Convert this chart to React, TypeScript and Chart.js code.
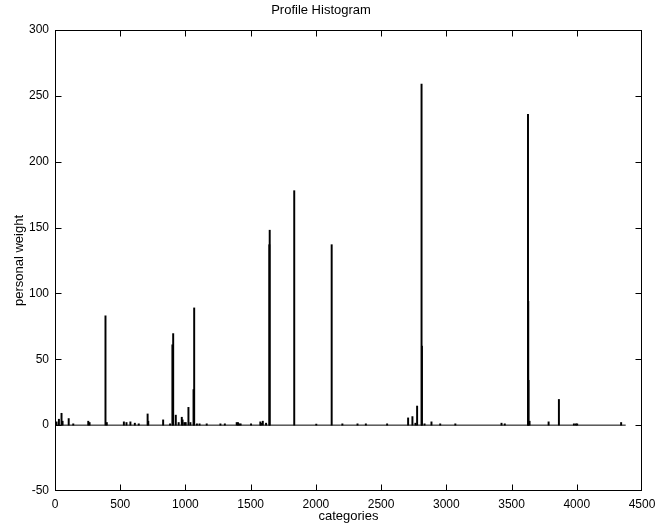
import React, { useEffect, useRef } from "react";
import { Chart, registerables } from "chart.js";

Chart.register(...registerables);

// ---- data ----
const spikeCategories = [
  12, 30, 50, 58, 105, 140, 255, 265, 387, 397, 528, 548, 578, 612, 642, 710, 715,
  829, 882, 900, 906, 926, 948, 972, 978, 992, 1002, 1023, 1038, 1062, 1067, 1088,
  1108, 1163, 1268, 1302, 1393, 1403, 1413, 1423, 1503, 1574, 1579, 1593, 1618,
  1643, 1646, 1834, 2003, 2121, 2203, 2319, 2383, 2546, 2707, 2740, 2763, 2776,
  2810, 2813, 2833, 2886, 2953, 3069, 3423, 3448, 3626, 3628, 3630, 3638, 3784,
  3863, 3978, 3993, 4003, 4340,
];
const spikeWeights = [
  2.5, 4.5, 9, 3, 5, 1, 3, 2, 83, 2, 2.5, 2, 2.5, 1.5, 1, 8.5, 3,
  4, 1, 61, 69.5, 7.6, 2, 6, 4, 2, 2, 13.5, 2, 27, 89, 1,
  1, 1, 1, 1, 2, 2, 1, 1, 1, 2.5, 1.5, 3, 1.5,
  137, 148, 178, 0.8, 137, 1, 1, 1, 1, 5.5, 6.5, 1.5, 14.5,
  259, 60, 1, 2.5, 1, 1, 1.5, 1, 236, 94, 34, 3, 2.5,
  19.5, 1, 1, 1, 2,
];
const categoryCount = 4375; // zero-height bars form the baseline
const xRange = [0, 4500];
const xStep = 500;
const yRange = [-50, 300];
const yStep = 50;

const chartTitle = "Profile Histogram";
const xTitle = "categories";
const yTitle = "personal weight";

const FONT = "'Liberation Sans', Arial, Helvetica, sans-serif";

const framePlugin = {
  id: "matlabFrame",
  afterDraw(chart: any) {
    const { ctx, chartArea, scales } = chart;
    const { left, right, top, bottom } = chartArea;
    const x = scales.x;
    const y = scales.y;
    const L = Math.round(left) + 0.5;
    const R = Math.round(right) - 0.5;
    const T = Math.round(top) + 0.5;
    const B = Math.round(bottom) - 0.5;
    ctx.save();
    ctx.strokeStyle = "#000";
    ctx.lineWidth = 1;
    ctx.beginPath();
    x.ticks.forEach((t: any) => {
      const p = Math.round(x.getPixelForValue(t.value)) + 0.5;
      if (p <= L + 1 || p >= R - 1) return;
      ctx.moveTo(p, B);
      ctx.lineTo(p, B - 6);
      ctx.moveTo(p, T);
      ctx.lineTo(p, T + 6);
    });
    y.ticks.forEach((t: any) => {
      const p = Math.round(y.getPixelForValue(t.value)) + 0.5;
      if (p <= T + 1 || p >= B - 1) return;
      ctx.moveTo(L, p);
      ctx.lineTo(L + 6, p);
      ctx.moveTo(R, p);
      ctx.lineTo(R - 6, p);
    });
    ctx.stroke();
    ctx.strokeRect(L, T, R - L, B - T);
    ctx.restore();
  },
};

export default function App() {
  const canvasRef = useRef<HTMLCanvasElement | null>(null);

  useEffect(() => {
    if (!canvasRef.current) return;
    const bars = spikeCategories.map((c, i) => ({ x: c, y: spikeWeights[i] }));
    const baseline = [
      { x: 0, y: 0 },
      { x: categoryCount, y: 0 },
    ];
    const chart = new Chart(canvasRef.current, {
      type: "bar",
      data: {
        datasets: [
          {
            type: "line",
            data: baseline,
            borderColor: "#000",
            borderWidth: 1,
            pointRadius: 0,
            order: 2,
          } as any,
          {
            type: "bar",
            data: bars,
            backgroundColor: "#000",
            borderWidth: 0,
            barThickness: 1.3,
            order: 1,
          } as any,
        ],
      },
      plugins: [framePlugin],
      options: {
        animation: false,
        responsive: false,
        maintainAspectRatio: false,
        color: "#000",
        layout: { padding: { left: 0, right: 15, top: 0, bottom: 0 } },
        plugins: {
          legend: { display: false },
          tooltip: { enabled: false },
          title: {
            display: true,
            text: chartTitle,
            color: "#000",
            font: { family: FONT, size: 13, weight: "normal" },
            padding: { top: 2.5, bottom: 11.9 },
          },
        },
        scales: {
          x: {
            type: "linear",
            min: xRange[0],
            max: xRange[1],
            offset: false,
            grid: { display: false, drawTicks: false, offset: false },
            border: { display: false },
            ticks: {
              stepSize: xStep,
              color: "#000",
              padding: 6,
              maxRotation: 0,
              autoSkip: false,
              font: { family: FONT, size: 12 },
              callback: (v: any) => String(v),
            },
            title: {
              display: true,
              text: xTitle,
              color: "#000",
              font: { family: FONT, size: 13 },
              padding: { top: 0, bottom: 1.5 },
            },
            afterFit: (s: any) => {
              s.height = 35;
              s.paddingLeft = 0;
              s.paddingRight = 0;
            },
          },
          y: {
            type: "linear",
            min: yRange[0],
            max: yRange[1],
            grid: { display: false, drawTicks: false },
            border: { display: false },
            ticks: {
              stepSize: yStep,
              color: "#000",
              padding: 6,
              font: { family: FONT, size: 12 },
              callback: (v: any) => String(v),
            },
            title: {
              display: true,
              text: yTitle,
              color: "#000",
              font: { family: FONT, size: 13 },
              padding: { top: 11.5, bottom: 0 },
            },
            afterFit: (s: any) => {
              s.width = 55;
              s.paddingTop = 0;
              s.paddingBottom = 0;
            },
          },
        },
      },
    });
    return () => chart.destroy();
  }, []);

  return (
    <div style={{ position: "fixed", left: 0, top: 0, width: 657, height: 526, background: "#fff" }}>
      <canvas ref={canvasRef} width={657} height={526} style={{ display: "block" }} />
    </div>
  );
}
